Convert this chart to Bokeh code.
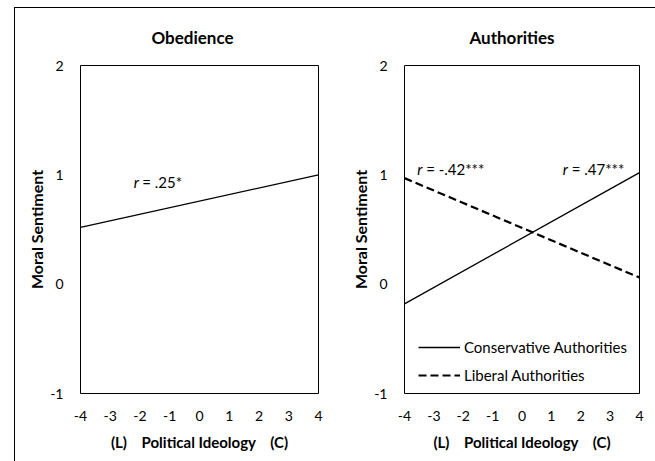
from bokeh.plotting import figure
from bokeh.layouts import row
from bokeh.models import (Range1d, Label, Legend, LegendItem, FixedTicker, CustomJSTickFormatter,
                          Title)
from bokeh.embed import file_html
from bokeh.resources import INLINE

# ---- data ----
ideology = [-4, 4]
obedience = [0.52, 1.00]
conservative_auth = [-0.18, 1.02]
liberal_auth = [0.97, 0.06]
x_ticks = [-4, -3, -2, -1, 0, 1, 2, 3, 4]
y_ticks = [-1, 0, 1, 2]
titles = ["Obedience", "Authorities"]
x_label = "(L)\u00a0\u00a0\u00a0\u00a0Political Ideology\u00a0\u00a0\u00a0\u00a0(C)"
y_label = "Moral Sentiment"
ann_left = ("r", "= .25*")
ann_lib = ("r", "= -.42***")
ann_con = ("r", "= .47***")
legend_labels = ["Conservative Authorities", "Liberal Authorities"]

FONT = "Lato"


def make_fig(title, mleft, mright, toff):
    p = figure(width=320, height=453, output_backend="svg", toolbar_location=None,
               x_range=Range1d(-4, 4), y_range=Range1d(-1, 2),
               min_border_left=mleft, min_border_right=mright,
               min_border_top=57, min_border_bottom=68, title=None)
    xax = p.below[0]
    yax = p.left[0]
    p.add_layout(Title(text=title, text_font=FONT, text_font_size="17px", text_font_style="bold",
                       align="left", vertical_align="top", text_color="black",
                       standoff=32, offset=toff), "above")
    p.grid.visible = False
    p.outline_line_color = "black"
    p.outline_line_width = 1
    p.outline_line_alpha = 1
    p.background_fill_color = "white"
    p.border_fill_color = "white"
    for ax in (xax, yax):
        ax.axis_line_color = None
        ax.major_tick_line_color = None
        ax.minor_tick_line_color = None
        ax.major_tick_out = 0
        ax.major_tick_in = 0
        ax.minor_tick_out = 0
        ax.minor_tick_in = 0
        ax.major_label_text_font = FONT
        ax.major_label_text_font_size = "14px"
        ax.major_label_text_color = "black"
        ax.axis_label_text_font = FONT
        ax.axis_label_text_font_style = "bold"
        ax.axis_label_text_color = "black"
        ax.formatter = CustomJSTickFormatter(code="return tick.toFixed(0);")
    xax.axis_label_text_font_size = "15px"
    yax.axis_label_text_font_size = "16px"
    xax.ticker = FixedTicker(ticks=x_ticks)
    yax.ticker = FixedTicker(ticks=y_ticks)
    xax.major_label_standoff = 17
    yax.major_label_standoff = 17
    xax.axis_label = x_label
    yax.axis_label = y_label
    xax.axis_label_standoff = 9
    yax.axis_label_standoff = 1
    return p


def r_label(p, x, y, rest, gap):
    p.add_layout(Label(x=x, y=y, text="r", text_font=FONT, text_font_style="italic",
                       text_font_size="15px", text_baseline="alphabetic", text_color="black"))
    p.add_layout(Label(x=x, y=y, x_offset=gap, text=rest, text_font=FONT,
                       text_font_size="15px", text_baseline="alphabetic", text_color="black"))


# ---- left panel ----
p1 = make_fig(titles[0], 65, 17, 71)
p1.line(ideology, obedience, line_color="black", line_width=1.3)
r_label(p1, -2.21, 0.93, ann_left[1], 8.5)

# ---- right panel ----
p2 = make_fig(titles[1], 69, 16, 65)
r_con = p2.line(ideology, conservative_auth, line_color="black", line_width=1.3)
r_lib = p2.line(ideology, liberal_auth, line_color="black", line_width=2.2, line_dash="8 4")
r_label(p2, -3.57, 1.05, ann_lib[1], 9)
r_label(p2, 1.385, 1.05, ann_con[1], 9)

legend = Legend(items=[LegendItem(label=legend_labels[0], renderers=[r_con]),
                       LegendItem(label=legend_labels[1], renderers=[r_lib])],
                location=(14, 8), padding=0, margin=0, spacing=8,
                glyph_width=42, glyph_height=20, label_height=20, label_standoff=4,
                label_text_font=FONT, label_text_font_size="15px", label_text_color="black",
                border_line_color=None, background_fill_alpha=0)
p2.add_layout(legend)

layout = row(p1, p2, margin=(7, 0, 0, 14),
             styles={"border-left": "1px solid black", "border-top": "1px solid black"})

open("out.html", "w").write(file_html(layout, INLINE))
